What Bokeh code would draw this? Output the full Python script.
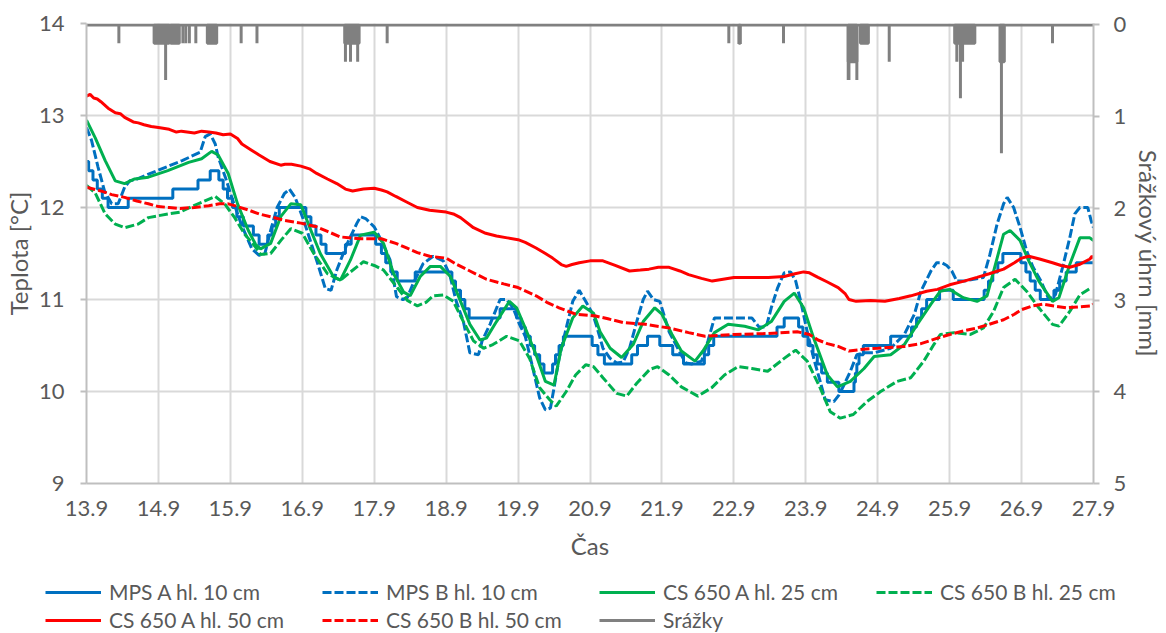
from bokeh.plotting import figure
from bokeh.models import Range1d, LinearAxis, FixedTicker, Legend, LegendItem
from bokeh.embed import file_html
from bokeh.resources import INLINE

# ---- time axis (day.month) ----
x_ticks = [13.9, 14.9, 15.9, 16.9, 17.9, 18.9, 19.9, 20.9, 21.9, 22.9, 23.9, 24.9, 25.9, 26.9, 27.9]
x_tick_labels = ["13.9", "14.9", "15.9", "16.9", "17.9", "18.9", "19.9", "20.9",
                 "21.9", "22.9", "23.9", "24.9", "25.9", "26.9", "27.9"]
temp_ticks = [9, 10, 11, 12, 13, 14]
rain_ticks = [0, 1, 2, 3, 4, 5]

# ---- MPS A, depth 10 cm (0.1 °C resolution, value holds until next change) ----
mps_a_t = [13.90, 13.93, 13.99, 14.05, 14.12, 14.20, 14.48, 15.10, 15.45, 15.62, 15.74, 15.80,
           15.86, 15.93, 15.99, 16.08, 16.22, 16.30, 16.42, 16.48, 16.53, 16.58, 16.95, 17.02,
           17.09, 17.16, 17.23, 17.50, 17.58, 17.92, 18.00, 18.06, 18.13, 18.22, 18.47, 18.98,
           19.03, 19.10, 19.16, 19.22, 19.65, 19.88, 19.94, 20.00, 20.07, 20.13, 20.20, 20.26,
           20.38, 20.42, 20.47, 20.53, 20.93, 21.01, 21.10, 21.48, 21.56, 21.70, 21.87, 22.05,
           22.20, 22.49, 22.55, 22.62, 23.50, 23.60, 23.80, 23.86, 23.93, 24.00, 24.06, 24.12,
           24.20, 24.36, 24.57, 24.59, 24.61, 24.64, 24.70, 25.08, 25.37, 25.44, 25.51, 25.58,
           25.76, 25.95, 26.38, 26.44, 26.50, 26.57, 26.64, 26.89, 26.96, 27.02, 27.09, 27.16,
           27.35, 27.43, 27.52, 27.66]
mps_a_v = [12.5, 12.4, 12.3, 12.2, 12.1, 12.0, 12.1, 12.2, 12.3, 12.4, 12.3, 12.2,
           12.1, 12.0, 11.9, 11.8, 11.7, 11.6, 11.7, 11.8, 11.9, 12.0, 11.9, 11.8,
           11.7, 11.6, 11.5, 11.6, 11.7, 11.6, 11.5, 11.4, 11.3, 11.2, 11.3, 11.2,
           11.1, 11.0, 10.9, 10.8, 10.9, 10.8, 10.7, 10.6, 10.5, 10.4, 10.3, 10.2,
           10.3, 10.4, 10.5, 10.6, 10.5, 10.4, 10.3, 10.4, 10.5, 10.6, 10.5, 10.4,
           10.3, 10.4, 10.5, 10.6, 10.7, 10.8, 10.7, 10.6, 10.5, 10.4, 10.3, 10.2,
           10.1, 10.0, 10.1, 10.2, 10.3, 10.4, 10.5, 10.6, 10.7, 10.8, 10.9, 11.0,
           11.1, 11.0, 11.1, 11.2, 11.3, 11.4, 11.5, 11.4, 11.3, 11.2, 11.1, 11.0,
           11.1, 11.2, 11.3, 11.4]

# ---- MPS B, depth 10 cm ----
mps_b_t = [13.90, 13.97, 14.06, 14.15, 14.25, 14.34, 14.43, 14.50, 14.57, 14.88, 15.23, 15.48,
           15.55, 15.62, 15.69, 15.73, 15.83, 15.92, 16.05, 16.20, 16.30, 16.38, 16.46, 16.55,
           16.65, 16.72, 16.80, 16.92, 17.04, 17.13, 17.22, 17.30, 17.38, 17.52, 17.66, 17.71,
           17.78, 17.90, 18.00, 18.12, 18.21, 18.30, 18.36, 18.44, 18.58, 18.72, 18.86, 18.95,
           19.04, 19.14, 19.23, 19.35, 19.40, 19.51, 19.65, 19.74, 19.83, 19.92, 20.00, 20.10,
           20.20, 20.28, 20.35, 20.40, 20.47, 20.57, 20.66, 20.75, 20.84, 20.94, 21.00, 21.08,
           21.18, 21.27, 21.36, 21.45, 21.55, 21.64, 21.70, 21.78, 21.87, 22.00, 22.14, 22.23,
           22.32, 22.45, 22.54, 22.63, 22.72, 23.15, 23.25, 23.35, 23.42, 23.51, 23.60, 23.69,
           23.76, 23.83, 23.92, 24.01, 24.10, 24.17, 24.29, 24.36, 24.43, 24.52, 24.61, 24.71,
           24.85, 25.08, 25.27, 25.41, 25.50, 25.64, 25.72, 25.79, 25.86, 25.93, 26.00, 26.10,
           26.37, 26.46, 26.56, 26.65, 26.70, 26.79, 26.88, 26.97, 27.06, 27.17, 27.28, 27.37,
           27.47, 27.57, 27.64, 27.71, 27.82, 27.87, 27.90]
mps_b_v = [12.87, 12.73, 12.44, 12.18, 12.04, 12.04, 12.22, 12.29, 12.30, 12.40, 12.51, 12.60,
           12.77, 12.80, 12.69, 12.55, 12.33, 12.11, 11.82, 11.55, 11.48, 11.50, 11.75, 12.00,
           12.15, 12.20, 12.11, 11.86, 11.57, 11.35, 11.12, 11.10, 11.32, 11.60, 11.83, 11.90,
           11.88, 11.79, 11.64, 11.43, 11.03, 11.00, 11.02, 11.17, 11.39, 11.47, 11.42, 11.27,
           10.98, 10.76, 10.42, 10.40, 10.55, 10.73, 11.00, 11.00, 10.91, 10.73, 10.60, 10.27,
           9.93, 9.80, 9.82, 10.04, 10.36, 10.69, 10.98, 11.10, 10.98, 10.84, 10.69, 10.47,
           10.36, 10.31, 10.32, 10.47, 10.76, 11.00, 11.09, 11.00, 10.98, 10.65, 10.44, 10.31,
           10.30, 10.33, 10.55, 10.80, 10.80, 10.80, 10.70, 10.70, 10.91, 11.13, 11.29, 11.30,
           11.20, 10.98, 10.65, 10.36, 10.11, 9.91, 9.89, 9.96, 10.07, 10.22, 10.40, 10.42,
           10.42, 10.47, 10.62, 10.84, 11.09, 11.31, 11.40, 11.40, 11.37, 11.31, 11.20, 11.20,
           11.24, 11.49, 11.82, 12.04, 12.11, 12.00, 11.78, 11.53, 11.35, 11.20, 11.00, 11.05,
           11.35, 11.67, 11.93, 12.00, 12.00, 11.85, 11.78]

# ---- CS 650 A, depth 25 cm ----
cs25_a_t = [13.90, 14.02, 14.16, 14.30, 14.43, 14.57, 14.76, 15.03, 15.32, 15.50, 15.64, 15.73,
            15.87, 16.00, 16.15, 16.25, 16.32, 16.46, 16.60, 16.74, 16.88, 17.00, 17.15, 17.34,
            17.43, 17.57, 17.71, 17.90, 18.03, 18.17, 18.31, 18.40, 18.54, 18.68, 18.82, 18.96,
            19.10, 19.23, 19.37, 19.46, 19.60, 19.78, 19.88, 20.00, 20.15, 20.28, 20.40, 20.50,
            20.66, 20.80, 20.95, 21.04, 21.18, 21.34, 21.50, 21.64, 21.80, 21.90, 22.04, 22.17,
            22.36, 22.47, 22.63, 22.82, 23.05, 23.24, 23.42, 23.60, 23.74, 23.87, 24.01, 24.20,
            24.34, 24.52, 24.71, 24.85, 25.08, 25.27, 25.45, 25.64, 25.77, 25.90, 26.09, 26.28,
            26.42, 26.56, 26.65, 26.74, 26.88, 27.00, 27.14, 27.33, 27.42, 27.57, 27.71, 27.85,
            27.90]
cs25_a_v = [12.95, 12.76, 12.51, 12.29, 12.26, 12.31, 12.33, 12.40, 12.49, 12.53, 12.61, 12.57,
            12.37, 12.04, 11.75, 11.60, 11.55, 11.61, 11.90, 12.04, 12.03, 11.79, 11.50, 11.24,
            11.21, 11.43, 11.70, 11.73, 11.61, 11.28, 11.08, 11.04, 11.25, 11.36, 11.36, 11.25,
            10.98, 10.73, 10.56, 10.58, 10.76, 10.98, 10.91, 10.69, 10.40, 10.11, 10.07, 10.47,
            10.80, 10.93, 10.85, 10.65, 10.47, 10.37, 10.51, 10.76, 10.91, 10.84, 10.62, 10.44,
            10.33, 10.44, 10.64, 10.73, 10.71, 10.67, 10.76, 10.98, 11.07, 10.91, 10.58, 10.18,
            10.05, 10.11, 10.25, 10.38, 10.40, 10.51, 10.73, 10.95, 11.09, 11.11, 11.02, 10.98,
            11.04, 11.45, 11.71, 11.75, 11.64, 11.42, 11.20, 10.98, 11.02, 11.38, 11.67, 11.67,
            11.64]

# ---- CS 650 B, depth 25 cm ----
cs25_b_t = [13.90, 14.02, 14.16, 14.30, 14.43, 14.62, 14.76, 15.03, 15.20, 15.45, 15.69, 15.82,
            15.96, 16.10, 16.25, 16.32, 16.46, 16.60, 16.74, 16.90, 17.06, 17.25, 17.43, 17.57,
            17.75, 17.90, 18.03, 18.22, 18.36, 18.50, 18.62, 18.72, 18.86, 19.00, 19.14, 19.28,
            19.42, 19.55, 19.74, 19.92, 20.06, 20.20, 20.34, 20.43, 20.57, 20.70, 20.84, 20.95,
            21.08, 21.27, 21.41, 21.55, 21.73, 21.84, 22.00, 22.17, 22.40, 22.59, 22.77, 22.96,
            23.15, 23.37, 23.60, 23.76, 23.92, 24.10, 24.24, 24.38, 24.56, 24.75, 24.94, 25.17,
            25.36, 25.54, 25.68, 25.77, 25.96, 26.19, 26.37, 26.51, 26.65, 26.81, 26.97, 27.14,
            27.33, 27.42, 27.57, 27.71, 27.87]
cs25_b_v = [12.24, 12.16, 11.93, 11.82, 11.78, 11.82, 11.89, 11.93, 11.95, 12.04, 12.12, 12.04,
            11.89, 11.71, 11.57, 11.49, 11.50, 11.64, 11.77, 11.72, 11.50, 11.28, 11.21, 11.30,
            11.41, 11.37, 11.32, 11.13, 10.99, 10.93, 10.97, 11.04, 11.05, 10.98, 10.76, 10.55,
            10.47, 10.51, 10.60, 10.55, 10.36, 10.04, 9.91, 9.84, 10.00, 10.18, 10.29, 10.27,
            10.15, 9.98, 9.95, 10.09, 10.24, 10.27, 10.18, 10.05, 9.95, 10.04, 10.18, 10.27,
            10.25, 10.22, 10.36, 10.45, 10.33, 10.04, 9.78, 9.71, 9.75, 9.89, 10.00, 10.11,
            10.15, 10.33, 10.51, 10.62, 10.64, 10.62, 10.69, 10.87, 11.13, 11.22, 11.09, 10.91,
            10.73, 10.71, 10.87, 11.05, 11.13]

# ---- CS 650 A, depth 50 cm ----
cs50_a_t = [13.90, 13.95, 14.00, 14.05, 14.10, 14.20, 14.30, 14.37, 14.43, 14.55, 14.62, 14.70,
            14.80, 14.90, 15.05, 15.15, 15.22, 15.40, 15.50, 15.60, 15.70, 15.80, 15.90, 16.00,
            16.06, 16.20, 16.30, 16.45, 16.60, 16.66, 16.75, 16.88, 17.00, 17.10, 17.25, 17.38,
            17.50, 17.60, 17.75, 17.90, 18.00, 18.08, 18.20, 18.35, 18.50, 18.67, 18.80, 18.90,
            19.00, 19.10, 19.28, 19.45, 19.60, 19.75, 19.90, 20.00, 20.15, 20.28, 20.38, 20.50,
            20.57, 20.65, 20.75, 20.90, 21.08, 21.25, 21.45, 21.60, 21.72, 21.85, 22.00, 22.15,
            22.27, 22.45, 22.60, 22.75, 22.90, 23.10, 23.38, 23.60, 23.75, 23.87, 23.95, 24.07,
            24.20, 24.35, 24.45, 24.50, 24.60, 24.80, 25.00, 25.20, 25.36, 25.58, 25.73, 25.90,
            26.10, 26.28, 26.45, 26.65, 26.80, 26.90, 27.00, 27.15, 27.33, 27.45, 27.57, 27.70,
            27.85, 27.88, 27.90]
cs50_a_v = [13.21, 13.23, 13.19, 13.18, 13.15, 13.08, 13.03, 13.02, 12.98, 12.93, 12.92, 12.90,
            12.88, 12.87, 12.85, 12.82, 12.83, 12.81, 12.83, 12.82, 12.81, 12.79, 12.80, 12.75,
            12.69, 12.62, 12.57, 12.50, 12.46, 12.47, 12.47, 12.45, 12.42, 12.37, 12.31, 12.26,
            12.20, 12.18, 12.20, 12.21, 12.19, 12.17, 12.12, 12.06, 12.00, 11.97, 11.96, 11.95,
            11.93, 11.89, 11.78, 11.72, 11.69, 11.67, 11.65, 11.62, 11.56, 11.50, 11.45, 11.38,
            11.36, 11.38, 11.40, 11.42, 11.42, 11.37, 11.31, 11.32, 11.33, 11.35, 11.35, 11.31,
            11.27, 11.23, 11.20, 11.22, 11.24, 11.24, 11.24, 11.25, 11.28, 11.30, 11.29, 11.24,
            11.19, 11.13, 11.06, 11.00, 10.98, 10.99, 10.98, 11.01, 11.04, 11.09, 11.11, 11.16,
            11.20, 11.24, 11.28, 11.33, 11.40, 11.45, 11.47, 11.44, 11.40, 11.37, 11.35, 11.38,
            11.44, 11.47, 11.45]

# ---- CS 650 B, depth 50 cm ----
cs50_b_t = [13.90, 14.10, 14.25, 14.43, 14.60, 14.76, 14.90, 15.05, 15.20, 15.40, 15.60, 15.75,
            15.87, 16.00, 16.16, 16.30, 16.46, 16.65, 16.88, 17.10, 17.25, 17.43, 17.70, 18.00,
            18.20, 18.35, 18.50, 18.67, 18.90, 19.05, 19.23, 19.46, 19.70, 19.90, 20.15, 20.30,
            20.47, 20.70, 20.98, 21.15, 21.36, 21.67, 22.00, 22.27, 22.50, 22.70, 22.90, 23.38,
            23.78, 23.95, 24.07, 24.20, 24.35, 24.50, 24.70, 24.90, 25.27, 25.50, 25.73, 25.90,
            26.10, 26.28, 26.45, 26.65, 26.80, 26.90, 27.05, 27.20, 27.35, 27.52, 27.70, 27.87,
            27.90]
cs50_b_v = [12.22, 12.18, 12.14, 12.11, 12.07, 12.04, 12.01, 12.00, 11.99, 12.00, 12.02, 12.04,
            12.04, 12.01, 11.97, 11.93, 11.90, 11.86, 11.83, 11.79, 11.74, 11.68, 11.66, 11.66,
            11.61, 11.56, 11.51, 11.47, 11.45, 11.38, 11.31, 11.22, 11.17, 11.13, 11.04, 10.97,
            10.91, 10.84, 10.82, 10.79, 10.75, 10.73, 10.69, 10.64, 10.60, 10.61, 10.62, 10.63,
            10.65, 10.62, 10.56, 10.52, 10.49, 10.44, 10.46, 10.47, 10.49, 10.52, 10.58, 10.62,
            10.66, 10.69, 10.73, 10.78, 10.84, 10.89, 10.93, 10.95, 10.93, 10.91, 10.92, 10.93,
            10.95]

# ---- precipitation: rain_start .. rain_end at rain_mm (single readings have start == end) ----
rain_start = [14.35, 14.84, 15.00, 15.07, 15.24, 15.28, 15.33, 15.42, 15.58, 16.05, 16.27,
              17.49, 17.50, 17.57, 17.67, 18.08, 22.83, 22.97, 23.59, 24.49, 24.49, 24.50,
              24.61, 24.66, 25.06, 25.97, 26.00, 26.05, 26.08, 26.60, 26.62, 27.33]
rain_end = [14.35, 15.05, 15.00, 15.19, 15.24, 15.28, 15.33, 15.42, 15.71, 16.05, 16.27,
            17.69, 17.50, 17.57, 17.67, 18.08, 22.83, 22.99, 23.59, 24.61, 24.49, 24.50,
            24.61, 24.77, 25.06, 26.25, 26.00, 26.05, 26.08, 26.66, 26.62, 27.33]
rain_mm = [0.2, 0.2, 0.6, 0.2, 0.2, 0.2, 0.2, 0.2, 0.2, 0.2, 0.2,
           0.2, 0.4, 0.4, 0.4, 0.2, 0.2, 0.2, 0.2, 0.4, 0.6, 0.6,
           0.6, 0.2, 0.4, 0.2, 0.4, 0.8, 0.4, 0.4, 1.4, 0.2]

series_labels = ["MPS A hl. 10 cm", "MPS B hl. 10 cm", "CS 650 A hl. 25 cm", "CS 650 B hl. 25 cm",
                 "CS 650 A hl. 50 cm", "CS 650 B hl. 50 cm", "Srážky"]

BLUE = "#0070C0"
GREEN = "#00B050"
RED = "#FF0000"
GRAY = "#808080"
TXT = "#595959"
FONT = "Lato"
W = 3
DASH = "9 3"

# (colour, dash) per series, in legend order
styles = [(BLUE, "solid"), (BLUE, DASH), (GREEN, "solid"), (GREEN, DASH),
          (RED, "solid"), (RED, DASH), (GRAY, "solid")]


def hold_path(t, v, t_end):
    """Turn change points of a held (sampled) value into a drawable path."""
    xs, ys = [], []
    for i in range(len(t)):
        nxt = t[i + 1] if i + 1 < len(t) else t_end
        xs += [t[i], nxt]
        ys += [v[i], v[i]]
    return xs, ys


PLOT_H = 575
p = figure(width=1166, height=PLOT_H, output_backend="svg", toolbar_location=None,
           x_range=Range1d(x_ticks[0], x_ticks[-1]), y_range=Range1d(temp_ticks[0], temp_ticks[-1]),
           min_border_left=85, min_border_right=68, min_border_top=23, min_border_bottom=92)
p.extra_y_ranges = {"rain": Range1d(start=rain_ticks[-1], end=-0.016)}
p.outline_line_color = None
p.background_fill_color = "white"
p.border_fill_color = "white"

# grid
p.xgrid.ticker = FixedTicker(ticks=x_ticks)
p.ygrid.ticker = FixedTicker(ticks=temp_ticks)
for g in (p.xgrid, p.ygrid):
    g.grid_line_color = "#D9D9D9"
    g.grid_line_width = 2

# bottom axis
xa = p.xaxis[0]
xa.ticker = FixedTicker(ticks=x_ticks)
xa.major_label_overrides = {t: s for t, s in zip(x_ticks, x_tick_labels)}
xa.axis_label = "Čas"

# left axis
ya = p.yaxis[0]
ya.ticker = FixedTicker(ticks=temp_ticks)
ya.axis_label = "Teplota [°C]"

# right axis
ra = LinearAxis(y_range_name="rain", ticker=FixedTicker(ticks=rain_ticks),
                axis_label="Srážkový úhrn [mm]")
p.add_layout(ra, "right")

for ax in (xa, ya, ra):
    ax.axis_line_color = "#BFBFBF"
    ax.axis_line_width = 2
    ax.major_tick_line_color = "#BFBFBF"
    ax.major_tick_line_width = 2
    ax.minor_tick_line_color = None
    ax.major_tick_in = 0
    ax.major_label_text_font = FONT
    ax.major_label_text_font_size = "22px"
    ax.major_label_text_color = TXT
    ax.axis_label_text_font = FONT
    ax.axis_label_text_font_size = "24px"
    ax.axis_label_text_font_style = "normal"
    ax.axis_label_text_color = TXT

xa.major_tick_out = 0
xa.major_label_standoff = 17
xa.axis_label_standoff = 12
ya.major_tick_out = 6
ya.major_label_standoff = 16
ya.axis_label_standoff = 3
ra.major_tick_out = 6
ra.major_label_standoff = 14
ra.axis_label_standoff = 5

mx, my = hold_path(mps_a_t, mps_a_v, x_ticks[-1])
p.line(mx, my, line_color=BLUE, line_width=W)
p.line(mps_b_t, mps_b_v, line_color=BLUE, line_width=W, line_dash=DASH)
p.line(cs25_a_t, cs25_a_v, line_color=GREEN, line_width=W)
p.line(cs25_b_t, cs25_b_v, line_color=GREEN, line_width=W, line_dash=DASH)
p.line(cs50_a_t, cs50_a_v, line_color=RED, line_width=W)
p.line(cs50_b_t, cs50_b_v, line_color=RED, line_width=W, line_dash=DASH)

# precipitation hangs from the top (reversed secondary axis)
p.quad(left=rain_start, right=rain_end, top=[0] * len(rain_mm), bottom=rain_mm,
       y_range_name="rain", fill_color=GRAY, line_color=GRAY, line_width=W)
p.line([x_ticks[0], x_ticks[-1]], [0, 0], y_range_name="rain", line_color=GRAY, line_width=W)

# ---- legend strip under the chart (separate root, no axes, frame fills the strip) ----
leg_fig = figure(width=1166, height=633 - PLOT_H, output_backend="svg", toolbar_location=None,
                 x_range=Range1d(0, 1), y_range=Range1d(0, 1),
                 x_axis_location=None, y_axis_location=None,
                 min_border=0, min_border_left=0, min_border_right=0,
                 min_border_top=0, min_border_bottom=0, outline_line_color=None)
leg_fig.grid.visible = False
items = []
for lab, (col, dash) in zip(series_labels, styles):
    # a single point draws nothing in the strip; it only carries the legend style
    r = leg_fig.line([-1], [-1], line_color=col, line_width=W, line_dash=dash)
    items.append(LegendItem(label=lab, renderers=[r]))

legend = Legend(items=items, ncols=4, orientation="horizontal", location=(45, 1))
legend.glyph_width = 56
legend.glyph_height = 24
legend.label_width = 210
legend.label_height = 24
legend.label_standoff = 8
legend.spacing = 3
legend.padding = 0
legend.margin = 0
legend.border_line_color = None
legend.background_fill_alpha = 0
legend.label_text_font = FONT
legend.label_text_font_size = "21px"
legend.label_text_color = TXT
leg_fig.add_layout(legend, "center")

open("out.html", "w").write(file_html([p, leg_fig], INLINE))
